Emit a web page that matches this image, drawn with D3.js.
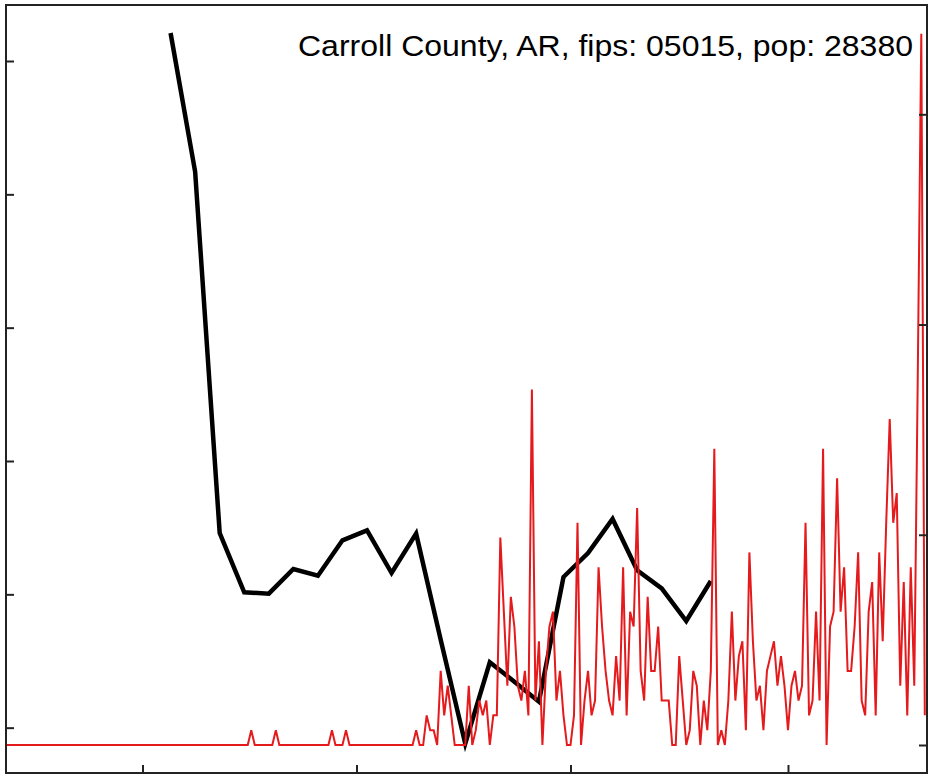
<!DOCTYPE html>
<html>
<head>
<meta charset="utf-8">
<script src="https://cdn.jsdelivr.net/npm/d3@7"></script>
<style>
  html, body { margin: 0; padding: 0; background: #fff; }
  svg { display: block; }
</style>
</head>
<body>
<div id="chart"></div>
<script>
// ---------------- data ----------------
const titleText = "Carroll County, AR, fips: 05015, pop: 28380";
const population = 28380;

// daily new cases, starting 2020-01-22
const redStart = "2020-01-22";
const dailyCases = [
  0,0,0,0,0,0,0,0,0,0, 0,0,0,0,0,0,0,0,0,0,
  0,0,0,0,0,0,0,0,0,0, 0,0,0,0,0,0,0,0,0,0,
  0,0,0,0,0,0,0,0,0,0, 0,0,0,0,0,0,0,0,0,0,
  0,0,0,0,0,0,0,0,0,0, 1,0,0,0,0,0,0,1,0,0,
  0,0,0,0,0,0,0,0,0,0, 0,0,0,1,0,0,0,1,0,0,
  0,0,0,0,0,0,0,0,0,0, 0,0,0,0,0,0,0,1,0,0,
  2,1,1,0,5,2,4,2,0,0, 0,0,4,0,1,3,2,3,0,2,
  2,14,9,4,10,8,4,3,5,2, 24,3,7,0,5,8,9,3,5,2,
  0,0,2,15,0,3,5,2,3,12, 8,5,3,2,6,3,12,2,9,8,
  16,5,3,10,5,5,8,3,3,3, 0,0,6,3,0,1,5,4,0,3,
  1,5,20,0,1,0,3,9,3,6, 7,1,13,7,3,4,1,5,6,7,
  4,6,4,1,4,5,3,4,15,2, 3,9,3,20,0,8,9,18,9,12,
  5,5,8,13,3,2,9,11,2,13, 7,15,22,15,17,4,11,2,12,4,
  25,48,2
];

// weekly series (black), weeks starting 2020-03-09
const blackDates = [
  "2020-03-09","2020-03-16","2020-03-23","2020-03-30","2020-04-06","2020-04-13",
  "2020-04-20","2020-04-27","2020-05-04","2020-05-11","2020-05-18","2020-05-25",
  "2020-06-01","2020-06-08","2020-06-15","2020-06-22","2020-06-29","2020-07-06",
  "2020-07-13","2020-07-20","2020-07-27","2020-08-03","2020-08-10"
];
const blackValues = [
  6.21, 5.17, 2.46, 2.015, 2.005, 2.19,
  2.14, 2.405, 2.48, 2.16, 2.455, 1.66,
  0.88, 1.49, 1.345, 1.195, 2.13, 2.31,
  2.565, 2.18, 2.045, 1.80, 2.10
];

const xTickDates = ["2020-03-01","2020-05-01","2020-07-01","2020-09-01"];
const leftTicks = [1, 2, 3, 4, 5, 6];
const rightTicks = [0, 50, 100, 150];

// ---------------- chart ----------------
const W = 933, H = 774;
const parse = d3.utcParse("%Y-%m-%d");
const svg = d3.select("#chart").append("svg")
  .attr("width", W).attr("height", H);

svg.append("rect").attr("width", W).attr("height", H).attr("fill", "#fff");

const frame = {left: 6, top: 5, right: 927, bottom: 773};

const x = d3.scaleUtc()
  .domain([parse("2020-01-22"), parse("2020-10-10")])
  .range([5.7, 924.8]);
const yL = d3.scaleLinear().domain([0, 6]).range([861, 61]);
const yR = d3.scaleLinear().domain([0, 150]).range([745, 114.3]);

const start = parse(redStart);
const redData = dailyCases.map((c, i) => ({
  date: d3.utcDay.offset(start, i),
  v: c * 100000 / population
}));
const blackData = blackDates.map((d, i) => ({date: parse(d), v: blackValues[i]}));

svg.append("clipPath").attr("id", "clip")
  .append("rect")
  .attr("x", frame.left).attr("y", frame.top)
  .attr("width", frame.right - frame.left)
  .attr("height", frame.bottom - frame.top);

const plot = svg.append("g").attr("clip-path", "url(#clip)");

plot.append("path")
  .datum(blackData)
  .attr("fill", "none")
  .attr("stroke", "#000")
  .attr("stroke-width", 4.5)
  .attr("stroke-linejoin", "miter")
  .attr("d", d3.line().x(d => x(d.date)).y(d => yL(d.v)));

plot.append("path")
  .datum(redData)
  .attr("fill", "none")
  .attr("stroke", "#e41a1c")
  .attr("stroke-width", 2)
  .attr("stroke-linejoin", "miter")
  .attr("d", d3.line().x(d => x(d.date)).y(d => yR(d.v)));

// axes (ticks inward, no labels)
const tickLen = 8;
const axL = svg.append("g").attr("transform", `translate(${frame.left},0)`)
  .call(d3.axisLeft(yL).tickValues(leftTicks).tickSize(-tickLen).tickFormat(""));
const axR = svg.append("g").attr("transform", `translate(${frame.right},0)`)
  .call(d3.axisRight(yR).tickValues(rightTicks).tickSize(-tickLen).tickFormat(""));
const axB = svg.append("g").attr("transform", `translate(0,${frame.bottom})`)
  .call(d3.axisBottom(x).tickValues(xTickDates.map(parse)).tickSize(-tickLen).tickFormat(""));
[axL, axR, axB].forEach(g => {
  g.select(".domain").remove();
  g.selectAll(".tick line").attr("stroke", "#222").attr("stroke-width", 2);
});

// frame
svg.append("rect")
  .attr("x", frame.left).attr("y", frame.top)
  .attr("width", frame.right - frame.left)
  .attr("height", frame.bottom - frame.top)
  .attr("fill", "none")
  .attr("stroke", "#222")
  .attr("stroke-width", 2);

svg.append("text")
  .attr("x", 913).attr("y", 56)
  .attr("text-anchor", "end")
  .attr("font-family", "Liberation Sans, Arial, sans-serif")
  .attr("font-size", 29)
  .attr("textLength", 615)
  .attr("lengthAdjust", "spacingAndGlyphs")
  .attr("fill", "#000")
  .text(titleText);
</script>
</body>
</html>
